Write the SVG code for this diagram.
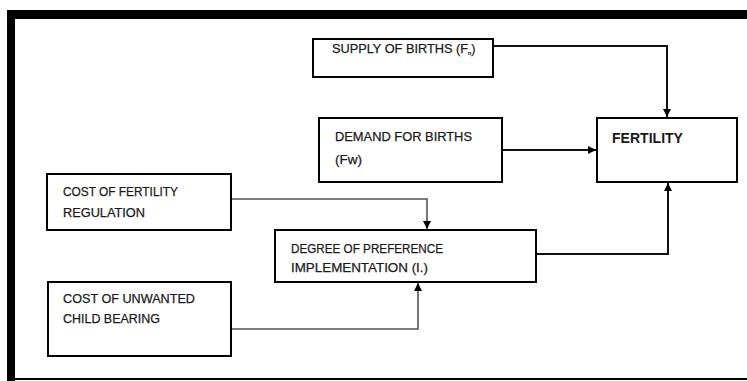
<svg xmlns="http://www.w3.org/2000/svg" width="747" height="381" viewBox="0 0 747 381">
<style>
.box{fill:#fff;stroke:#000;stroke-width:2}
.t{font-family:"Liberation Sans",Arial,sans-serif;font-size:12.5px;fill:#1a1a1a;stroke:#1a1a1a;stroke-width:0.25}
.b{font-family:"Liberation Sans",Arial,sans-serif;font-size:14px;font-weight:bold;fill:#1a1a1a}
.c{fill:none;stroke:#111;stroke-width:2}
.g{fill:none;stroke:#555;stroke-width:1.6}
</style>
<defs>
<marker id="ah" markerWidth="10" markerHeight="10" refX="8" refY="4" orient="auto" markerUnits="userSpaceOnUse">
<path d="M0,0 L8,4 L0,8 Z" fill="#000"/>
</marker>
</defs>
<rect width="747" height="381" fill="#fff"/>
<g id="frame">
<rect x="7" y="10" width="740" height="9" fill="#000"/>
<rect x="7" y="10" width="8" height="371" fill="#000"/>
<rect x="7" y="378" width="740" height="2" fill="#000"/>
</g>
<g id="connectors">
<polyline class="c" points="493,46 667,46 667,117" marker-end="url(#ah)"/>
<polyline class="c" points="502,150 596,150" marker-end="url(#ah)"/>
<polyline class="g" points="231,199 427,199 427,229" marker-end="url(#ah)"/>
<polyline class="c" points="536,254 668,254 668,183" marker-end="url(#ah)"/>
<polyline class="g" points="231,329 418,329 418,283" marker-end="url(#ah)"/>
</g>
<g id="supply">
<rect class="box" x="313" y="39" width="180" height="38"/>
<text class="t" x="332" y="53"><tspan textLength="136" lengthAdjust="spacingAndGlyphs">SUPPLY OF BIRTHS (F</tspan><tspan font-size="6" dy="2">n</tspan><tspan dy="-2">)</tspan></text>
</g>
<g id="demand">
<rect class="box" x="319" y="118" width="183" height="64"/>
<text class="t" x="335" y="141" textLength="137" lengthAdjust="spacingAndGlyphs">DEMAND FOR BIRTHS</text>
<text class="t" x="335" y="164" textLength="27" lengthAdjust="spacingAndGlyphs">(Fw)</text>
</g>
<g id="fertility">
<rect class="box" x="597" y="118" width="140" height="64"/>
<text class="b" x="612" y="143" textLength="71" lengthAdjust="spacingAndGlyphs">FERTILITY</text>
</g>
<g id="costreg">
<rect class="box" x="47" y="174" width="184" height="56"/>
<text class="t" x="63" y="196" textLength="115" lengthAdjust="spacingAndGlyphs">COST OF FERTILITY</text>
<text class="t" x="63" y="217" textLength="82" lengthAdjust="spacingAndGlyphs">REGULATION</text>
</g>
<g id="degree">
<rect class="box" x="275" y="230" width="261" height="52"/>
<text class="t" x="291" y="253" textLength="152" lengthAdjust="spacingAndGlyphs">DEGREE OF PREFERENCE</text>
<text class="t" x="291" y="272" textLength="137" lengthAdjust="spacingAndGlyphs">IMPLEMENTATION (I.)</text>
</g>
<g id="costunwanted">
<rect class="box" x="48" y="282" width="183" height="74"/>
<text class="t" x="63" y="303" textLength="132" lengthAdjust="spacingAndGlyphs">COST OF UNWANTED</text>
<text class="t" x="63" y="323" textLength="97" lengthAdjust="spacingAndGlyphs">CHILD BEARING</text>
</g>
</svg>
